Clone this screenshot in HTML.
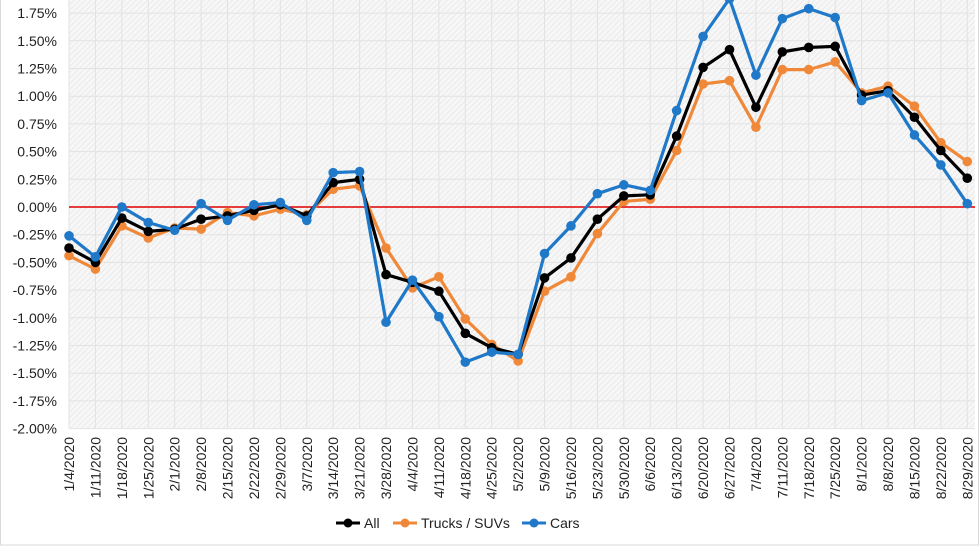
<!DOCTYPE html><html><head><meta charset="utf-8"><style>
html,body{margin:0;padding:0;background:#fff}
svg{display:block;font-family:"Liberation Sans",Arial,sans-serif}
</style></head><body>
<svg id="c" width="980" height="552" xmlns="http://www.w3.org/2000/svg">
<defs><pattern id="h" width="4" height="4" patternUnits="userSpaceOnUse" patternTransform="rotate(45)"><rect width="4" height="4" fill="#f7f7f7"/><line x1="0" y1="0" x2="0" y2="4" stroke="#e6e6e6" stroke-width="1.5"/></pattern></defs>
<rect x="0.5" y="-2" width="978" height="547" fill="#fff" stroke="#d9d9d9"/>
<rect x="69" y="0" width="906" height="428" fill="url(#h)"/>
<g id="g"></g>
</svg>
<script>
var g=document.getElementById('g'),s='';
var d=["1/4","1/11","1/18","1/25","2/1","2/8","2/15","2/22","2/29","3/7","3/14","3/21","3/28","4/4","4/11","4/18","4/25","5/2","5/9","5/16","5/23","5/30","6/6","6/13","6/20","6/27","7/4","7/11","7/18","7/25","8/1","8/8","8/15","8/22","8/29"];
var A=[-0.37,-0.50,-0.10,-0.22,-0.20,-0.11,-0.08,-0.03,0.02,-0.08,0.22,0.25,-0.61,-0.68,-0.76,-1.14,-1.27,-1.33,-0.64,-0.46,-0.11,0.10,0.11,0.64,1.26,1.42,0.90,1.40,1.44,1.45,1.01,1.05,0.81,0.51,0.26];
var T=[-0.44,-0.56,-0.17,-0.28,-0.19,-0.20,-0.05,-0.08,-0.02,-0.07,0.16,0.19,-0.37,-0.73,-0.63,-1.01,-1.24,-1.39,-0.76,-0.63,-0.24,0.05,0.07,0.51,1.11,1.14,0.72,1.24,1.24,1.31,1.03,1.09,0.91,0.58,0.41];
var C=[-0.26,-0.45,0.00,-0.14,-0.21,0.03,-0.12,0.02,0.04,-0.12,0.31,0.32,-1.04,-0.66,-0.99,-1.40,-1.31,-1.33,-0.42,-0.17,0.12,0.20,0.15,0.87,1.54,1.88,1.19,1.70,1.79,1.71,0.96,1.03,0.65,0.38,0.03];
function X(i){return 69+i*26.42}function Y(v){return 207-v*110.8}
for(var i=0;i<35;i++){s+='<line x1="'+X(i)+'" y1="0" x2="'+X(i)+'" y2="428" stroke="#e2e2e2"/>';}
for(var k=-8;k<=7;k++){var y=Y(k*0.25);s+='<line x1="69" y1="'+y+'" x2="975" y2="'+y+'" stroke="#e2e2e2"/>';
s+='<text x="57" y="'+(y+5)+'" font-size="14" text-anchor="end" fill="#222">'+(k*0.25).toFixed(2)+'%</text>';}
s+='<line x1="69" y1="207" x2="975" y2="207" stroke="#e00000" stroke-width="1.5"/>';
for(var i=0;i<35;i++){s+='<text transform="translate('+(X(i)+5)+',437) rotate(-90)" font-size="14" text-anchor="end" fill="#222">'+d[i]+'/2020</text>';}
function ser(a,c){var p=a.map(function(v,i){return X(i)+','+Y(v)}).join(' ');var r='<polyline points="'+p+'" fill="none" stroke="'+c+'" stroke-width="3.2" stroke-linejoin="round"/>';a.forEach(function(v,i){r+='<circle cx="'+X(i)+'" cy="'+Y(v)+'" r="4.8" fill="'+c+'"/>'});return r;}
s+=ser(T,'#f0883a')+ser(A,'#000')+ser(C,'#1f78c8');
function leg(x,c,t){return '<line x1="'+x+'" y1="523" x2="'+(x+24)+'" y2="523" stroke="'+c+'" stroke-width="3"/><circle cx="'+(x+12)+'" cy="523" r="4.5" fill="'+c+'"/><text x="'+(x+28)+'" y="528" font-size="14" fill="#222">'+t+'</text>';}
s+=leg(336,'#000','All')+leg(393,'#f0883a','Trucks / SUVs')+leg(522,'#1f78c8','Cars');
g.innerHTML=s;
</script>
</body></html>
